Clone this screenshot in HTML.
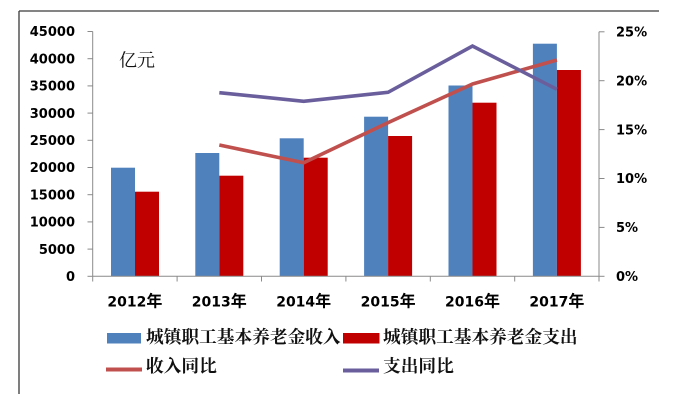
<!DOCTYPE html>
<html>
<head>
<meta charset="utf-8">
<style>
  html,body{margin:0;padding:0;background:#fff;}
  svg{display:block;}
  .num{font-family:"DejaVu Sans","Liberation Sans",sans-serif;font-weight:bold;font-size:13px;fill:#000;}
  .xl{font-family:"DejaVu Sans","Liberation Sans",sans-serif;font-weight:bold;font-size:14px;fill:#000;}
  .nian{font-family:"Liberation Sans","Noto Sans CJK SC",sans-serif;font-weight:bold;font-size:16px;}
  .leg{font-family:"Liberation Serif","Noto Serif CJK SC",serif;font-weight:bold;font-size:17.7px;fill:#111;}
  .unit{font-family:"Liberation Serif","Noto Serif CJK SC",serif;font-size:18px;fill:#111;}
</style>
</head>
<body>
<svg width="681" height="401" viewBox="0 0 681 401" xmlns="http://www.w3.org/2000/svg">
  <rect width="681" height="401" fill="#fff"/>
  <!-- outer border -->
  <line x1="19" y1="11" x2="659" y2="11" stroke="#3a3a3a" stroke-width="1.3"/>
  <line x1="19" y1="11" x2="19" y2="394" stroke="#3a3a3a" stroke-width="1.3"/>

  <!-- bars -->
  <g fill="#4f81bd">
    <rect x="111" y="167.7" width="24" height="108.6"/>
    <rect x="195.3" y="153" width="24" height="123.3"/>
    <rect x="279.7" y="138.3" width="24" height="138"/>
    <rect x="364.1" y="116.7" width="24" height="159.6"/>
    <rect x="448.5" y="85.5" width="24" height="190.8"/>
    <rect x="532.9" y="43.7" width="24" height="232.6"/>
  </g>
  <g fill="#c00000">
    <rect x="135" y="191.7" width="24" height="84.6"/>
    <rect x="219.3" y="175.7" width="24" height="100.6"/>
    <rect x="303.7" y="157.7" width="24" height="118.6"/>
    <rect x="388.1" y="136" width="24" height="140.3"/>
    <rect x="472.5" y="102.7" width="24" height="173.6"/>
    <rect x="556.9" y="70" width="24" height="206.3"/>
  </g>

  <!-- axes -->
  <g stroke="#8a8a8a" stroke-width="1">
    <line x1="92.7" y1="31.5" x2="92.7" y2="276.3"/>
    <line x1="87.5" y1="31.5" x2="92.7" y2="31.5"/>
    <line x1="87.5" y1="58.7" x2="92.7" y2="58.7"/>
    <line x1="87.5" y1="85.9" x2="92.7" y2="85.9"/>
    <line x1="87.5" y1="113.1" x2="92.7" y2="113.1"/>
    <line x1="87.5" y1="140.3" x2="92.7" y2="140.3"/>
    <line x1="87.5" y1="167.5" x2="92.7" y2="167.5"/>
    <line x1="87.5" y1="194.7" x2="92.7" y2="194.7"/>
    <line x1="87.5" y1="221.9" x2="92.7" y2="221.9"/>
    <line x1="87.5" y1="249.1" x2="92.7" y2="249.1"/>
    <line x1="87.5" y1="276.3" x2="92.7" y2="276.3"/>

    <line x1="92.7" y1="276.3" x2="599" y2="276.3"/>
    <line x1="92.7" y1="276.3" x2="92.7" y2="281.5"/>
    <line x1="177.1" y1="276.3" x2="177.1" y2="281.5"/>
    <line x1="261.5" y1="276.3" x2="261.5" y2="281.5"/>
    <line x1="345.9" y1="276.3" x2="345.9" y2="281.5"/>
    <line x1="430.3" y1="276.3" x2="430.3" y2="281.5"/>
    <line x1="514.7" y1="276.3" x2="514.7" y2="281.5"/>
    <line x1="599" y1="276.3" x2="599" y2="281.5"/>

    <line x1="599" y1="31.8" x2="599" y2="276.3"/>
    <line x1="599" y1="31.8" x2="604.5" y2="31.8"/>
    <line x1="599" y1="80.7" x2="604.5" y2="80.7"/>
    <line x1="599" y1="129.6" x2="604.5" y2="129.6"/>
    <line x1="599" y1="178.5" x2="604.5" y2="178.5"/>
    <line x1="599" y1="227.4" x2="604.5" y2="227.4"/>
    <line x1="599" y1="276.3" x2="604.5" y2="276.3"/>
  </g>

  <!-- lines -->
  <polyline points="219.3,145 303.7,162.7 388.1,122.6 472.5,84 556.9,60" fill="none" stroke="#c0504d" stroke-width="3.6" stroke-linejoin="round" stroke-linecap="butt"/>
  <polyline points="219.3,92.7 303.7,101.3 388.1,92.3 472.5,46 556.9,89.3" fill="none" stroke="#6a5f9c" stroke-width="3.6" stroke-linejoin="miter" stroke-linecap="butt"/>

  <!-- left labels -->
  <g class="num" text-anchor="end">
    <text x="75" y="36.2">45000</text>
    <text x="75" y="63.4">40000</text>
    <text x="75" y="90.6">35000</text>
    <text x="75" y="117.8">30000</text>
    <text x="75" y="145">25000</text>
    <text x="75" y="172.2">20000</text>
    <text x="75" y="199.4">15000</text>
    <text x="75" y="226.6">10000</text>
    <text x="75" y="253.8">5000</text>
    <text x="75" y="281">0</text>
  </g>
  <!-- right labels -->
  <g class="num">
    <text x="616" y="36.5">25%</text>
    <text x="616" y="85.4">20%</text>
    <text x="616" y="134.3">15%</text>
    <text x="616" y="183.2">10%</text>
    <text x="616" y="232.1">5%</text>
    <text x="616" y="281">0%</text>
  </g>

  <!-- x labels -->
  <g class="xl" text-anchor="middle">
    <text x="134.9" y="306.5">2012<tspan class="nian">年</tspan></text>
    <text x="219.3" y="306.5">2013<tspan class="nian">年</tspan></text>
    <text x="303.7" y="306.5">2014<tspan class="nian">年</tspan></text>
    <text x="388.1" y="306.5">2015<tspan class="nian">年</tspan></text>
    <text x="472.5" y="306.5">2016<tspan class="nian">年</tspan></text>
    <text x="556.9" y="306.5">2017<tspan class="nian">年</tspan></text>
  </g>

  <!-- unit -->
  <text class="unit" x="119" y="66.5">亿元</text>

  <!-- legend -->
  <rect x="107" y="333" width="34" height="10.5" fill="#4f81bd"/>
  <text class="leg" x="146" y="343">城镇职工基本养老金收入</text>
  <rect x="343" y="333" width="36.5" height="10.5" fill="#c00000"/>
  <text class="leg" x="383" y="343">城镇职工基本养老金支出</text>

  <line x1="106" y1="369.5" x2="142" y2="369.5" stroke="#c0504d" stroke-width="4"/>
  <text class="leg" x="146" y="372.2">收入同比</text>
  <line x1="343" y1="370.5" x2="379" y2="370.5" stroke="#6a5f9c" stroke-width="4"/>
  <text class="leg" x="383" y="372.2">支出同比</text>
</svg>
</body>
</html>
